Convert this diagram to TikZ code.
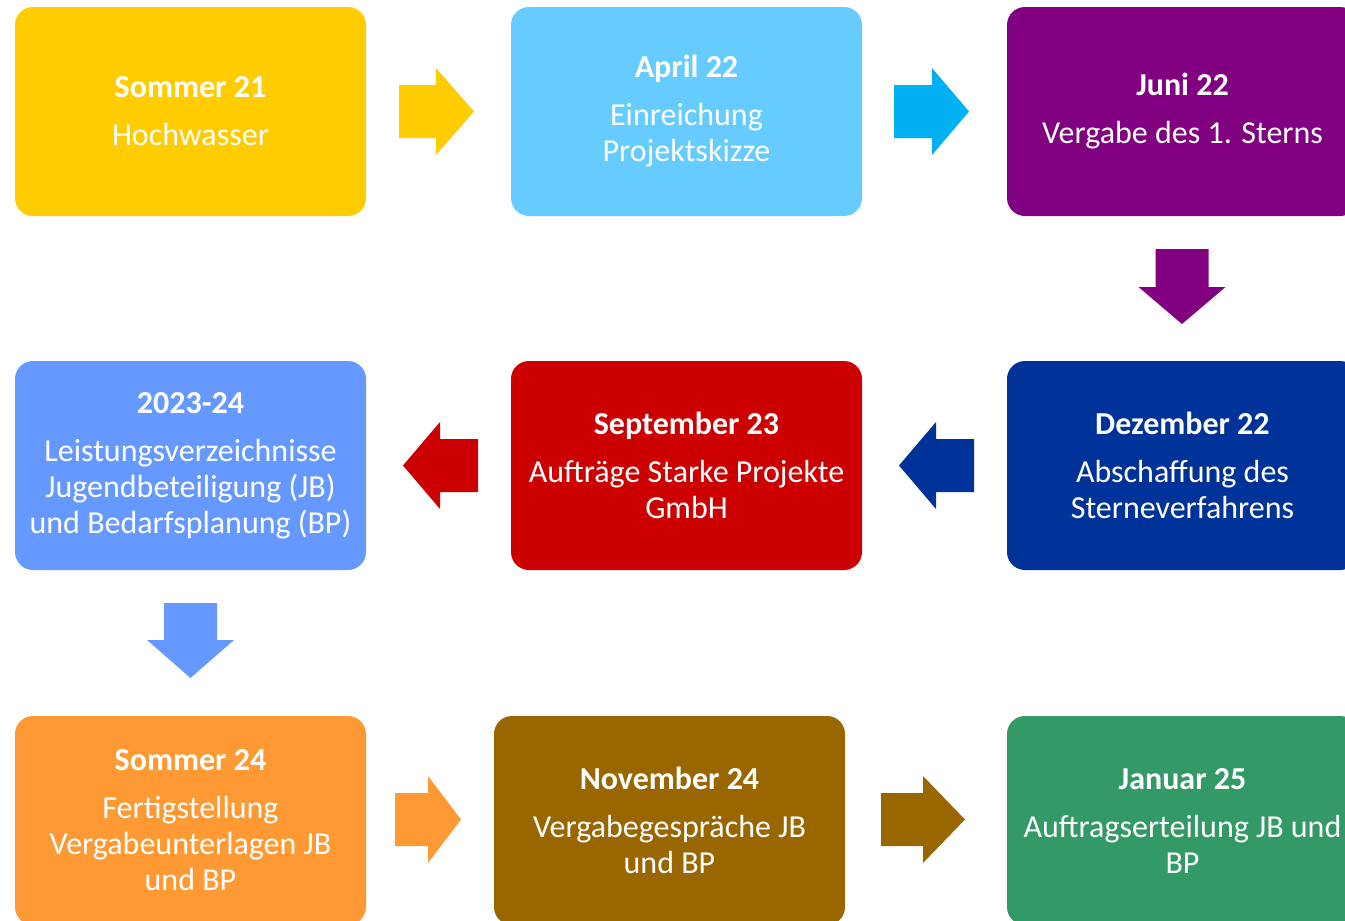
\documentclass[tikz,border=0pt]{standalone}
\usepackage{fontspec}
\setmainfont{Carlito}
\definecolor{cyel}{HTML}{FFCC00}
\definecolor{clblue}{HTML}{66CCFF}
\definecolor{ccyan}{HTML}{00B0F0}
\definecolor{cpurp}{HTML}{800080}
\definecolor{cmblue}{HTML}{6699FF}
\definecolor{cred}{HTML}{CC0000}
\definecolor{cdblue}{HTML}{003399}
\definecolor{corange}{HTML}{FF9933}
\definecolor{cbrown}{HTML}{996600}
\definecolor{cgreen}{HTML}{339966}
\tikzset{
  box/.style={rounded corners=18pt, minimum width=351pt, minimum height=209pt,
    text=white, align=center, font=\fontsize{32}{36}\selectfont, inner sep=0pt},
}
\newcommand{\rarr}[5]{% x0 xh xt yc color
  \fill[#5] (#1,#4-26.5) -- (#2,#4-26.5) -- (#2,#4-43.5) -- (#3,#4) -- (#2,#4+43.5) -- (#2,#4+26.5) -- (#1,#4+26.5) -- cycle;}
\newcommand{\darr}[5]{% xc y0 yh yt color
  \fill[#5] (#1-26.5,#2) -- (#1-26.5,#3) -- (#1-43.5,#3) -- (#1,#4) -- (#1+43.5,#3) -- (#1+26.5,#3) -- (#1+26.5,#2) -- cycle;}
\begin{document}
\begin{tikzpicture}[x=1pt,y=-1pt]
\clip (0,0) rectangle (1345,921);
\fill[white] (0,0) rectangle (1345,921);
% row 1
\node[box, fill=cyel] (n1) at (190.5,111.5) {\textbf{Sommer 21}\\[12pt]Hochwasser};
\node[box, fill=clblue] (n2) at (686.5,111.5) {\textbf{April 22}\\[12pt]Einreichung\\Projektskizze};
\node[box, fill=cpurp] (n3) at (1182.5,111.5) {\textbf{Juni 22}\\[12pt]Vergabe des 1. Sterns};
% row 2
\node[box, fill=cmblue] (n4) at (190.5,465.5) {\textbf{2023-24}\\[12pt]Leistungsverzeichnisse\\Jugendbeteiligung (JB)\\und Bedarfsplanung (BP)};
\node[box, fill=cred] (n5) at (686.5,465.5) {\textbf{September 23}\\[12pt]Aufträge Starke Projekte\\GmbH};
\node[box, fill=cdblue] (n6) at (1182.5,465.5) {\textbf{Dezember 22}\\[12pt]Abschaffung des\\Sterneverfahrens};
% row 3
\node[box, fill=corange] (n7) at (190.5,820.5) {\textbf{Sommer 24}\\[12pt]Fertigstellung\\Vergabeunterlagen JB\\und BP};
\node[box, fill=cbrown] (n8) at (669.5,820.5) {\textbf{November 24}\\[12pt]Vergabegespräche JB\\und BP};
\node[box, fill=cgreen] (n9) at (1182.5,820.5) {\textbf{Januar 25}\\[12pt]Auftragserteilung JB und\\BP};
% arrows
\rarr{399}{436}{474}{111.5}{cyel}
\rarr{894}{932}{969}{111.5}{ccyan}
\darr{1182}{249}{287}{324}{cpurp}
\rarr{974}{936}{899}{465.5}{cdblue}
\rarr{478}{440}{403}{465.5}{cred}
\darr{190.5}{603}{640}{678}{cmblue}
\rarr{395}{428}{461}{819.5}{corange}
\rarr{881}{923}{965}{819.5}{cbrown}
\end{tikzpicture}
\end{document}
